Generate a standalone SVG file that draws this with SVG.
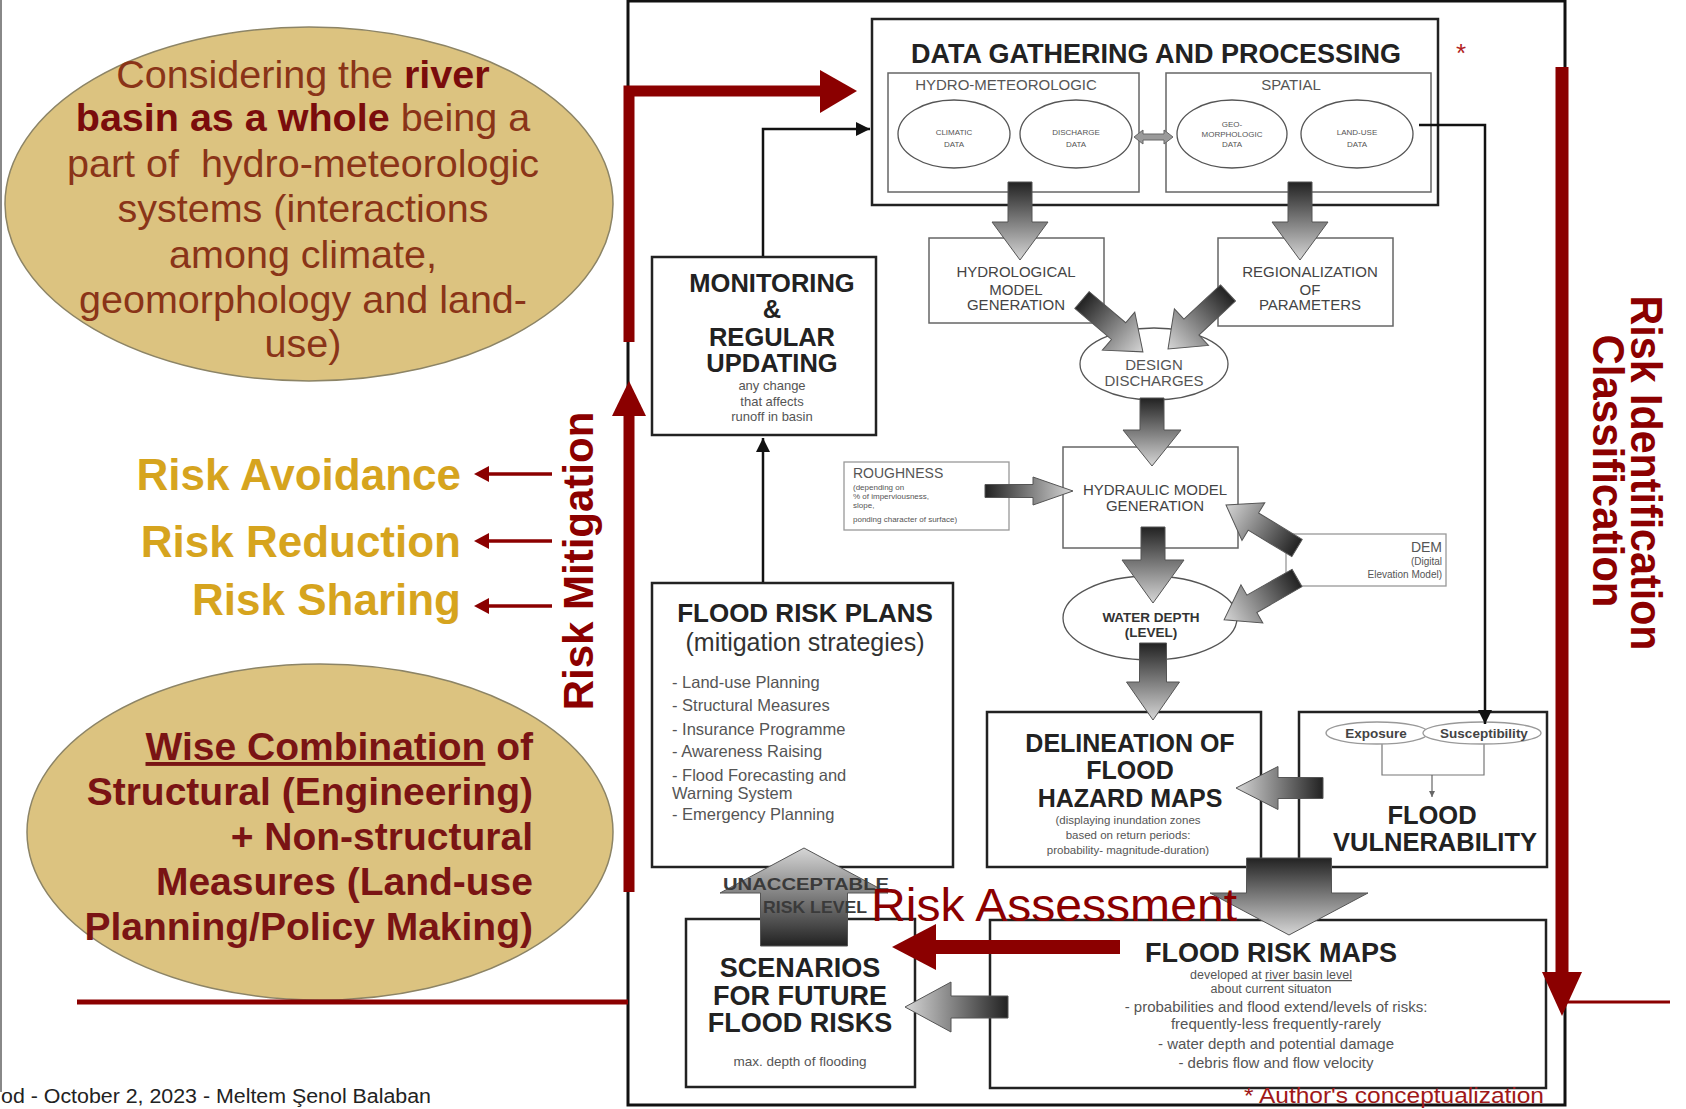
<svg xmlns="http://www.w3.org/2000/svg" width="1686" height="1109" viewBox="0 0 1686 1109">
<style>
.t{font-family:"Liberation Sans",Arial,sans-serif}
.b{font-weight:bold}
.box{fill:#fff;stroke:#222;stroke-width:2.5}
.sub{fill:#fff;stroke:#666;stroke-width:1.5}
.lite{fill:#fff;stroke:#999;stroke-width:1.3}
.ell{fill:#fff;stroke:#555;stroke-width:1.3}
.blk{fill:url(#gA);stroke:#555;stroke-width:1}
.red{fill:#8b0000}
.g1{fill:#444}
.g2{fill:#555}
.thin{fill:none;stroke:#111;stroke-width:2.5}
.tan{fill:#dcc380;stroke:#8c8466;stroke-width:1.5}
</style>
<defs>
<linearGradient id="gA" x1="0" y1="0" x2="0" y2="1">
<stop offset="0" stop-color="#222"/>
<stop offset="1" stop-color="#d6d6d6"/>
</linearGradient>
<marker id="ah" viewBox="0 0 10 10" refX="10" refY="5" markerWidth="16" markerHeight="14" markerUnits="userSpaceOnUse" orient="auto">
<path d="M0,0 L10,5 L0,10 Z" fill="#111"/>
</marker>
<marker id="ahs" viewBox="0 0 10 10" refX="10" refY="5" markerWidth="7" markerHeight="6" markerUnits="userSpaceOnUse" orient="auto">
<path d="M0,0 L10,5 L0,10 Z" fill="#666"/>
</marker>
</defs>
<rect width="1686" height="1109" fill="#fff"/>
<line x1="1" y1="0" x2="1" y2="1092" stroke="#888" stroke-width="2"/>

<g id="basin-ellipse">
<ellipse class="tan" cx="309" cy="204" rx="304" ry="177"/>
<g class="t" font-size="39.5" fill="#8a3418" text-anchor="middle">
<text x="303" y="88">Considering the <tspan class="b" fill="#7a0c0c">river</tspan></text>
<text x="303" y="131"><tspan class="b" fill="#7a0c0c">basin as a whole</tspan> being a</text>
<text x="303" y="177">part of&#160; hydro-meteorologic</text>
<text x="303" y="222">systems (interactions</text>
<text x="303" y="268">among climate,</text>
<text x="303" y="313">geomorphology and land-</text>
<text x="303" y="357">use)</text>
</g>
</g>

<g id="risk-options" class="t b" font-size="44" fill="#d6a41e" text-anchor="end">
<text x="461" y="490">Risk Avoidance</text>
<text x="461" y="557">Risk Reduction</text>
<text x="461" y="615">Risk Sharing</text>
</g>

<g id="wise-ellipse">
<ellipse class="tan" cx="320" cy="832" rx="293" ry="168"/>
<g class="t b" font-size="39" fill="#7a1414" text-anchor="end">
<text x="533" y="760"><tspan text-decoration="underline">Wise Combination</tspan> of</text>
<text x="533" y="805">Structural (Engineering)</text>
<text x="533" y="850">+ Non-structural</text>
<text x="533" y="895">Measures (Land-use</text>
<text x="533" y="940">Planning/Policy Making)</text>
</g>
</g>

<text class="t b red" font-size="42" text-anchor="middle" transform="translate(593,561) rotate(-90)">Risk Mitigation</text>
<g id="risk-identification" class="t b red" font-size="44" text-anchor="middle">
<text transform="translate(1631,473) rotate(90)" textLength="355" lengthAdjust="spacingAndGlyphs">Risk Identification</text>
<text transform="translate(1593,471) rotate(90)" textLength="273" lengthAdjust="spacingAndGlyphs">Classification</text>
</g>

<text class="t" font-size="20" fill="#222" x="1" y="1103" textLength="430" lengthAdjust="spacingAndGlyphs">od - October 2, 2023 - Meltem Şenol Balaban</text>

<g id="main-frame">
<rect x="628" y="1" width="937" height="1104" fill="none" stroke="#111" stroke-width="3"/>
</g>

<g id="data-gathering">
<rect class="box" x="872" y="19" width="566" height="186"/>
<text class="t b" x="1156" y="63" font-size="27" fill="#222" text-anchor="middle">DATA GATHERING AND PROCESSING</text>
<rect class="sub" x="888" y="73" width="251" height="119"/>
<text class="t" x="1006" y="90" font-size="15" fill="#555" text-anchor="middle">HYDRO-METEOROLOGIC</text>
<rect class="sub" x="1166" y="73" width="265" height="119"/>
<text class="t" x="1291" y="90" font-size="15" fill="#555" text-anchor="middle">SPATIAL</text>
<ellipse class="ell" cx="954" cy="134" rx="56" ry="34"/>
<ellipse class="ell" cx="1076" cy="134" rx="56" ry="34"/>
<ellipse class="ell" cx="1232" cy="134" rx="55" ry="34"/>
<ellipse class="ell" cx="1357" cy="134" rx="56" ry="34"/>
<g class="t g2" font-size="8" text-anchor="middle">
<text x="954" y="135">CLIMATIC</text><text x="954" y="147">DATA</text>
<text x="1076" y="135">DISCHARGE</text><text x="1076" y="147">DATA</text>
<text x="1232" y="127">GEO-</text><text x="1232" y="137">MORPHOLOGIC</text><text x="1232" y="147">DATA</text>
<text x="1357" y="135">LAND-USE</text><text x="1357" y="147">DATA</text>
</g>
<path d="M1134,137 L1143,130 L1143,134 L1164,134 L1164,130 L1173,137 L1164,144 L1164,140 L1143,140 L1143,144 Z" fill="#9a9a9a" stroke="#666" stroke-width="1"/>
</g>
<text class="t" x="1461" y="62" font-size="26" fill="#b22222" text-anchor="middle">*</text>

<g id="hydrological-model">
<rect class="sub" x="929" y="238" width="175" height="85"/>
<g class="t g1" font-size="15" text-anchor="middle">
<text x="1016" y="277">HYDROLOGICAL</text><text x="1016" y="295">MODEL</text><text x="1016" y="310">GENERATION</text>
</g>
</g>

<g id="regionalization">
<rect class="sub" x="1218" y="238" width="175" height="88"/>
<g class="t g1" font-size="15" text-anchor="middle">
<text x="1310" y="277">REGIONALIZATION</text><text x="1310" y="295">OF</text><text x="1310" y="310">PARAMETERS</text>
</g>
</g>

<g id="design-discharges">
<ellipse class="ell" cx="1154" cy="364" rx="74" ry="36"/>
<g class="t g2" font-size="15" text-anchor="middle">
<text x="1154" y="370">DESIGN</text><text x="1154" y="386">DISCHARGES</text>
</g>
</g>

<g id="roughness">
<rect class="lite" x="844" y="462" width="165" height="68"/>
<text class="t g2" x="853" y="478" font-size="14">ROUGHNESS</text>
<g class="t g2" font-size="8">
<text x="853" y="490">(depending on</text>
<text x="853" y="499">% of imperviousness,</text>
<text x="853" y="508">slope,</text>
<text x="853" y="522">ponding character of surface)</text>
</g>
</g>

<g id="hydraulic-model">
<rect class="sub" x="1063" y="447" width="175" height="101"/>
<g class="t g1" font-size="15" text-anchor="middle">
<text x="1155" y="495">HYDRAULIC MODEL</text><text x="1155" y="511">GENERATION</text>
</g>
</g>

<g id="dem">
<rect class="lite" x="1286" y="534" width="160" height="52"/>
<g class="t g2" text-anchor="end">
<text x="1442" y="552" font-size="14">DEM</text>
<text x="1442" y="565" font-size="10">(Digital</text>
<text x="1442" y="578" font-size="10">Elevation Model)</text>
</g>
</g>

<g id="water-depth">
<ellipse class="ell" cx="1150" cy="618" rx="87" ry="42"/>
<g class="t b" font-size="13.5" fill="#333" text-anchor="middle">
<text x="1151" y="622">WATER DEPTH</text><text x="1151" y="637">(LEVEL)</text>
</g>
</g>

<g id="monitoring">
<rect class="box" x="652" y="257" width="224" height="178"/>
<g class="t b" font-size="25.5" fill="#222" text-anchor="middle">
<text x="772" y="292">MONITORING</text><text x="772" y="318">&amp;</text><text x="772" y="346">REGULAR</text><text x="772" y="372">UPDATING</text>
</g>
<g class="t g2" font-size="13" text-anchor="middle">
<text x="772" y="390">any change</text><text x="772" y="406">that affects</text><text x="772" y="421">runoff in basin</text>
</g>
</g>

<g id="flood-risk-plans">
<rect class="box" x="652" y="583" width="301" height="284"/>
<text class="t b" x="805" y="622" font-size="26" fill="#222" text-anchor="middle">FLOOD RISK PLANS</text>
<text class="t" x="805" y="651" font-size="25" fill="#333" text-anchor="middle">(mitigation strategies)</text>
<g class="t g2" font-size="16.5">
<text x="672" y="688">- Land-use Planning</text>
<text x="672" y="711">- Structural Measures</text>
<text x="672" y="735">- Insurance Programme</text>
<text x="672" y="757">- Awareness Raising</text>
<text x="672" y="781">- Flood Forecasting and</text>
<text x="672" y="799">Warning System</text>
<text x="672" y="820">- Emergency Planning</text>
</g>
</g>

<g id="delineation">
<rect class="box" x="987" y="712" width="274" height="155"/>
<g class="t b" font-size="25" fill="#222" text-anchor="middle">
<text x="1130" y="752">DELINEATION OF</text><text x="1130" y="779">FLOOD</text><text x="1130" y="807">HAZARD MAPS</text>
</g>
<g class="t g2" font-size="11.5" text-anchor="middle">
<text x="1128" y="824">(displaying inundation zones</text>
<text x="1128" y="839">based on return periods:</text>
<text x="1128" y="854">probability- magnitude-duration)</text>
</g>
</g>

<g id="flood-vulnerability">
<rect class="box" x="1299" y="712" width="248" height="155"/>
<path d="M1382,744 V775 H1484 V744" fill="none" stroke="#777" stroke-width="1.2"/>
<line x1="1432" y1="775" x2="1432" y2="797" stroke="#666" stroke-width="1.2" marker-end="url(#ahs)"/>
<ellipse class="lite" cx="1377" cy="733" rx="51" ry="11"/>
<ellipse class="lite" cx="1482" cy="733" rx="59" ry="11"/>
<g class="t b" font-size="13.5" fill="#444" text-anchor="middle">
<text x="1376" y="738">Exposure</text><text x="1484" y="738">Susceptibility</text>
</g>
<g class="t b" font-size="25.5" fill="#222" text-anchor="middle">
<text x="1432" y="824">FLOOD</text><text x="1435" y="851">VULNERABILITY</text>
</g>
</g>

<g id="scenarios">
<rect class="box" x="686" y="919" width="229" height="168"/>
<g class="t b" font-size="27" fill="#222" text-anchor="middle">
<text x="800" y="977">SCENARIOS</text><text x="800" y="1005">FOR FUTURE</text><text x="800" y="1032">FLOOD RISKS</text>
</g>
<text class="t g2" x="800" y="1066" font-size="13.5" text-anchor="middle">max. depth of flooding</text>
</g>

<g id="flood-risk-maps">
<rect class="box" x="990" y="920" width="556" height="168"/>
<text class="t b" x="1271" y="962" font-size="27" fill="#222" text-anchor="middle">FLOOD RISK MAPS</text>
<g class="t g2" font-size="12.5" text-anchor="middle">
<text x="1271" y="979">developed at <tspan text-decoration="underline">river basin level</tspan></text>
<text x="1271" y="993">about current situaton</text>
</g>
<g class="t g2" font-size="15" text-anchor="middle">
<text x="1276" y="1012">- probabilities and flood extend/levels of risks:</text>
<text x="1276" y="1029">frequently-less frequently-rarely</text>
<text x="1276" y="1049">- water depth and potential damage</text>
<text x="1276" y="1068">- debris flow and flow velocity</text>
</g>
</g>

<g id="connectors">
<path class="thin" d="M763,256 V129 H870" marker-end="url(#ah)"/>
<path class="thin" d="M763,582 V438" marker-end="url(#ah)"/>
<path class="thin" d="M1419,125 H1485 V724" marker-end="url(#ah)"/>

<path class="blk" transform="translate(1020,182)" d="M-12,0 H12 V40 H28 L0,78 L-28,40 H-12 Z"/>
<path class="blk" transform="translate(1300,182)" d="M-12,0 H12 V40 H28 L0,78 L-28,40 H-12 Z"/>
<path class="blk" transform="translate(1082,300) rotate(-49.6)" d="M-11,0 H11 V48 H25 L0,80 L-25,48 H-11 Z"/>
<path class="blk" transform="translate(1228,293) rotate(47)" d="M-11,0 H11 V50 H25 L0,82 L-25,50 H-11 Z"/>
<path class="blk" transform="translate(1152,398)" d="M-12,0 H12 V32 H29 L0,68 L-29,32 H-12 Z"/>
<path class="blk" transform="translate(985,491) rotate(-90)" d="M-6.5,0 H6.5 V48 H14 L0,88 L-14,48 H-6.5 Z"/>
<path class="blk" transform="translate(1297,548) rotate(121.2)" d="M-10,0 H10 V51 H22 L0,83 L-22,51 H-10 Z"/>
<path class="blk" transform="translate(1297,578) rotate(60.2)" d="M-10,0 H10 V52 H22 L0,84 L-22,52 H-10 Z"/>
<path class="blk" transform="translate(1153,527)" d="M-12,0 H12 V33 H31 L0,76 L-31,33 H-12 Z"/>
<path class="blk" transform="translate(1153,643)" d="M-13.5,0 H13.5 V39 H26.5 L0,77 L-26.5,39 H-13.5 Z"/>
<path class="blk" transform="translate(1323,788) rotate(90)" d="M-10.5,0 H10.5 V45 H21.5 L0,87 L-21.5,45 H-10.5 Z"/>
<path class="blk" transform="translate(1289,858)" d="M-42.5,0 H42.5 V35 H79 L0,77 L-79,35 H-42.5 Z"/>
<path class="blk" transform="translate(1008,1007) rotate(90)" d="M-11,0 H11 V57 H25 L0,103 L-25,57 H-11 Z"/>
<path class="blk" transform="translate(804,946) rotate(180)" d="M-43.5,0 H43.5 V53 H84 L0,98 L-84,53 H-43.5 Z"/>

<path d="M629,342 V91 H822" fill="none" stroke="#8b0000" stroke-width="11"/>
<path class="red" d="M820,70 L857,91 L820,113 Z"/>
<line x1="629" y1="892" x2="629" y2="410" stroke="#8b0000" stroke-width="11"/>
<path class="red" d="M612,416 L629,381 L646,416 Z"/>
<line x1="1562" y1="67" x2="1562" y2="976" stroke="#8b0000" stroke-width="13"/>
<path class="red" d="M1542,972 L1562,1016 L1582,972 Z"/>
<rect class="red" x="933" y="940" width="187" height="14"/>
<path class="red" d="M936,924 L892,947 L936,970 Z"/>

<g stroke="#8b0000" stroke-width="3.5">
<line x1="552" y1="474" x2="484" y2="474"/>
<line x1="552" y1="541" x2="484" y2="541"/>
<line x1="552" y1="606" x2="484" y2="606"/>
</g>
<g class="red">
<path d="M489,466 L474,474 L489,482 Z"/>
<path d="M489,533 L474,541 L489,549 Z"/>
<path d="M489,598 L474,606 L489,614 Z"/>
</g>
<line x1="77" y1="1002" x2="628" y2="1002" stroke="#8b0000" stroke-width="5"/>
<line x1="1565" y1="1002" x2="1670" y2="1002" stroke="#8b0000" stroke-width="3"/>
</g>

<g class="t b" fill="#3a3a3a" text-anchor="middle">
<text x="806" y="890" font-size="17" textLength="166" lengthAdjust="spacingAndGlyphs">UNACCEPTABLE</text>
<text x="815" y="913" font-size="17" textLength="104" lengthAdjust="spacingAndGlyphs">RISK LEVEL</text>
</g>
<text class="t red" x="871" y="921" font-size="46" textLength="366" lengthAdjust="spacingAndGlyphs">Risk Assessment</text>
<text class="t" x="1244" y="1103" font-size="22" fill="#a01818" textLength="300" lengthAdjust="spacingAndGlyphs">* Author's conceptualization</text>
</svg>
